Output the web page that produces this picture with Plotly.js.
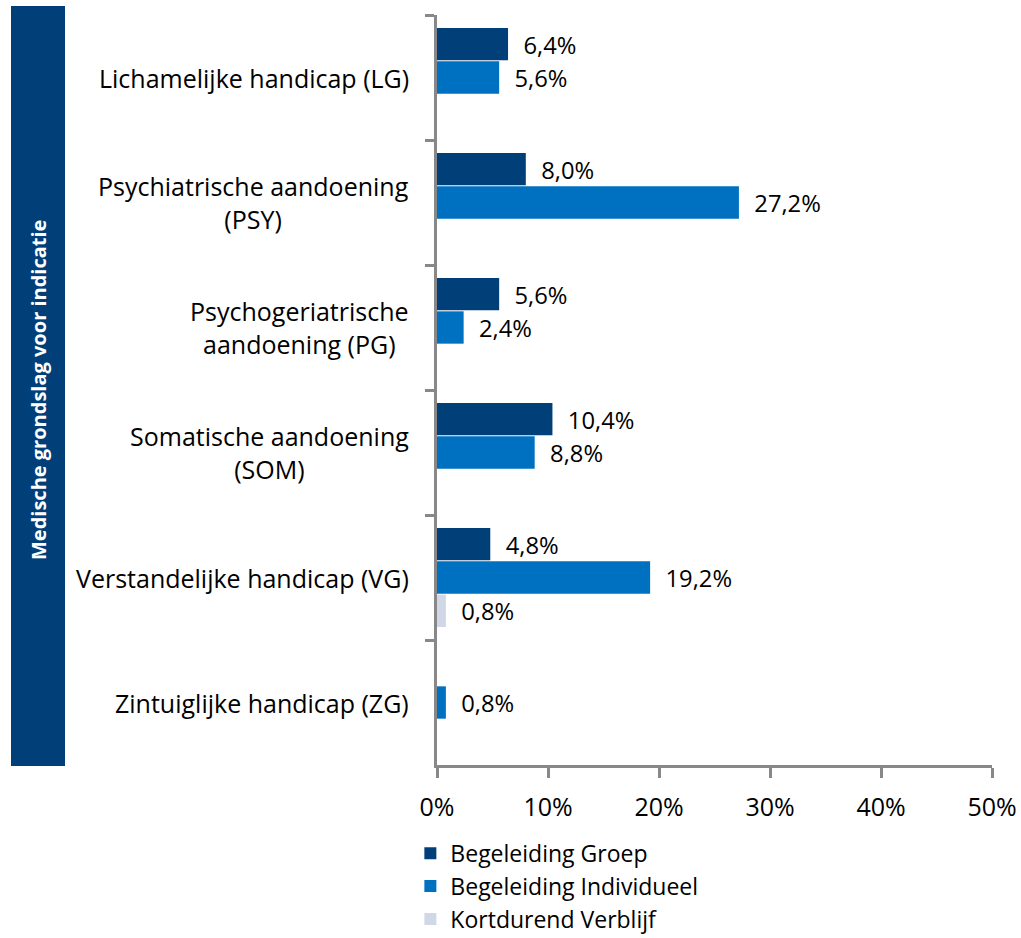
<!DOCTYPE html>
<html>
<head>
<meta charset="utf-8">
<script src="https://cdn.plot.ly/plotly-3.0.1.min.js"></script>
<style>html,body{margin:0;padding:0;background:#fff}#chart{width:1021px;height:938px}</style>
</head>
<body>
<div id="chart"></div>
<script>
const categories = ["LG", "PSY", "PG", "SOM", "VG", "ZG"];
const categoryLabels = [
  "Lichamelijke handicap (LG)",
  "Psychiatrische aandoening<br>(PSY)",
  "Psychogeriatrische<br>aandoening (PG)",
  "Somatische aandoening<br>(SOM)",
  "Verstandelijke handicap (VG)",
  "Zintuiglijke handicap (ZG)"
];
const seriesNames = ["Begeleiding Groep", "Begeleiding Individueel", "Kortdurend Verblijf"];
const groep = [6.4, 8.0, 5.6, 10.4, 4.8, null];
const individueel = [5.6, 27.2, 2.4, 8.8, 19.2, 0.8];
const kortdurend = [null, null, null, null, 0.8, null];
const xTickVals = [0, 10, 20, 30, 40, 50];
const xTickText = ["0%", "10%", "20%", "30%", "40%", "50%"];
const axisTitle = "Medische grondslag voor indicatie";

const colors = ["#003f78", "#0070c0", "#d0d8e8"];
const font = "Open Sans, Noto Sans, sans-serif";
const fs = 25;
const seriesValues = [groep, individueel, kortdurend];

const traces = seriesValues.map((vals, i) => ({
  type: "bar",
  orientation: "h",
  name: seriesNames[i],
  y: categories,
  x: vals,
  marker: {color: colors[i]},
  texttemplate: "\u00a0\u00a0%{x:.1f}%",
  textposition: "outside",
  cliponaxis: false,
  textfont: {family: font, size: fs, color: "#000"},
  hoverinfo: "skip"
}));

const annotations = categories.map((c, i) => ({
  xref: "paper", yref: "y",
  x: 0, y: c,
  xanchor: "right", yanchor: "middle",
  xshift: -26,
  align: "center",
  showarrow: false,
  text: categoryLabels[i],
  font: {family: font, size: fs, color: "#000"}
}));
annotations.push({
  xref: "paper", yref: "paper",
  x: (38 - 437) / 555, y: (765 - 390) / 750,
  xanchor: "center", yanchor: "middle",
  textangle: -90,
  showarrow: false,
  text: "<b>" + axisTitle + "</b>",
  font: {family: font, size: 20, color: "#ffffff"}
});

const layout = {
  width: 1021, height: 938,
  margin: {l: 437, r: 29, t: 15, b: 173, autoexpand: false},
  paper_bgcolor: "#fff", plot_bgcolor: "#fff",
  separators: ", ",
  barmode: "group",
  bargap: 0.2,
  bargroupgap: 0.03,
  showlegend: true,
  legend: {
    x: -0.048, y: -0.089, xanchor: "left", yanchor: "top",
    traceorder: "normal",
    font: {family: font, size: 23, color: "#000"},
    itemwidth: 30
  },
  xaxis: {
    range: [0, 50],
    tickvals: xTickVals, ticktext: xTickText,
    showgrid: false, zeroline: false,
    showline: true, linecolor: "#888", linewidth: 3,
    ticks: "outside", ticklen: 10, tickwidth: 3, tickcolor: "#888",
    ticklabelstandoff: 8,
    tickfont: {family: font, size: fs, color: "#000"}
  },
  yaxis: {
    type: "category",
    categoryarray: categories,
    autorange: "reversed",
    showticklabels: false,
    showgrid: false, zeroline: false,
    showline: true, linecolor: "#888", linewidth: 3,
    ticks: "outside", tickson: "boundaries", ticklen: 9, tickwidth: 3, tickcolor: "#888"
  },
  shapes: [{
    type: "rect", xref: "paper", yref: "paper",
    x0: (11 - 437) / 555, x1: (65 - 437) / 555,
    y0: (765 - 766) / 750, y1: (765 - 6) / 750,
    fillcolor: "#003f78", line: {width: 0}, layer: "below"
  }],
  annotations: annotations
};

Plotly.newPlot("chart", traces, layout, {displayModeBar: false, staticPlot: true});
</script>
</body>
</html>
